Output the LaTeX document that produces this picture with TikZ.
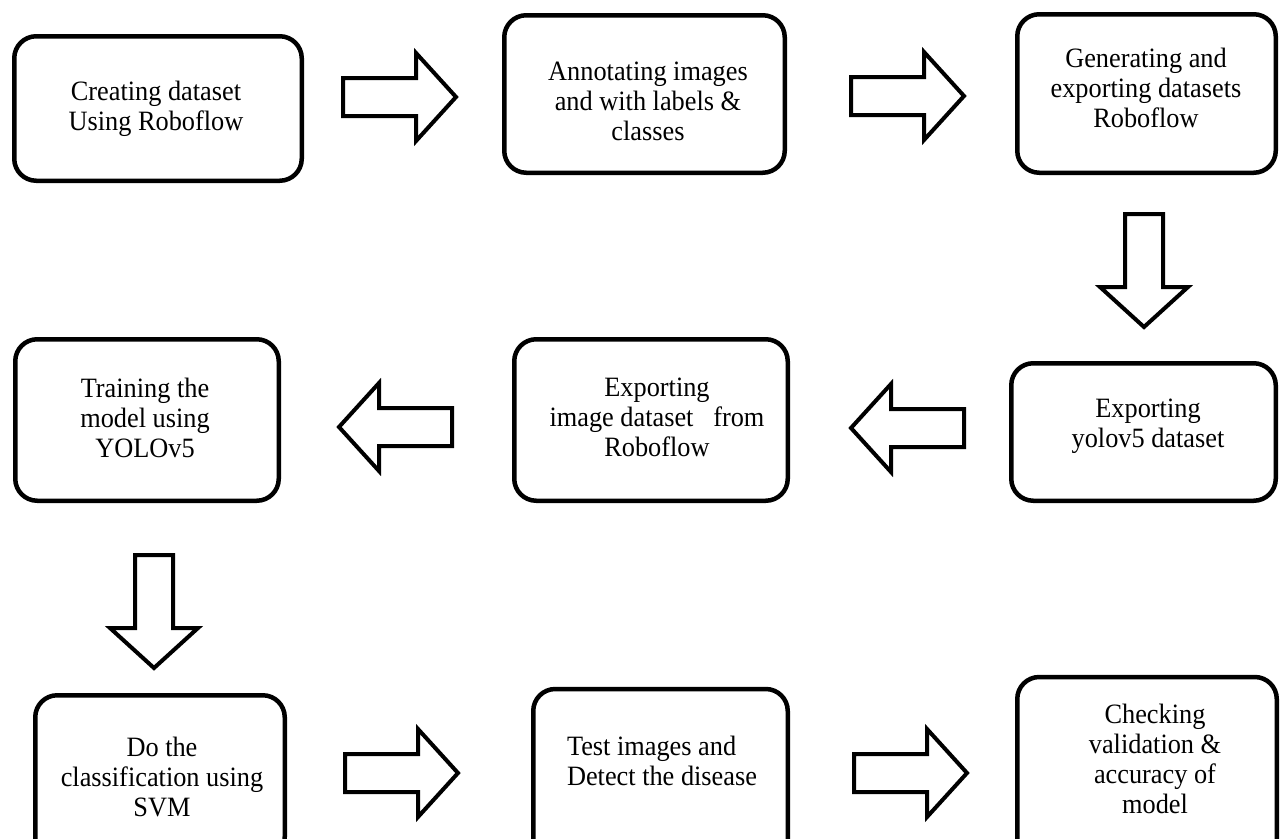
\documentclass[tikz,border=0pt]{standalone}
\usepackage{fontspec}
\setmainfont{Liberation Serif}[FakeStretch=0.94]
\tikzset{
  box/.style={draw=black, line width=4.5pt, rounded corners=22pt, inner sep=0pt, fill=white},
  txt/.style={align=center, inner sep=0pt, font=\fontsize{28}{30}\selectfont},
  arrowline/.style={draw=black, line width=4pt, line join=miter, fill=white},
  blockarrow/.pic={\path[arrowline] (2,-19) -- (75,-19) -- (75,-44) -- (115,0) -- (75,44) -- (75,19) -- (2,19) -- cycle;}
}
\begin{document}
\begin{tikzpicture}[x=1pt,y=-1pt]
\useasboundingbox[fill=white] (0,0) rectangle (1282,838);
% boxes
\node[box, minimum width=287.5pt, minimum height=144.5pt] (b1) at (158,108.5) {};
\node[box, minimum width=280.5pt, minimum height=157.5pt] (b2) at (644.5,94) {};
\node[box, minimum width=258.5pt, minimum height=158.5pt] (b3) at (1146.5,93.5) {};
\node[box, minimum width=264.5pt, minimum height=137.5pt] (b4) at (1143.5,432) {};
\node[box, minimum width=273.5pt, minimum height=161.5pt] (b5) at (651,420) {};
\node[box, minimum width=263.5pt, minimum height=161.5pt] (b6) at (147,420) {};
\node[box, minimum width=249.5pt, minimum height=163.5pt] (b7) at (160,777) {};
\node[box, minimum width=254.5pt, minimum height=173pt] (b8) at (660.5,775.5) {};
\node[box, minimum width=259.5pt, minimum height=185pt] (b9) at (1147,769.5) {};
% texts
\node[txt] (t1) at (156,109) {Creating dataset\\Using Roboflow};
\node[txt] (t2) at (648,101) {Annotating images\\and with labels \&\\classes};
\node[txt] (t3) at (1146,88) {Generating and\\exporting datasets\\Roboflow};
\node[txt] (t4) at (1148,426) {Exporting\\yolov5 dataset};
\node[txt] (t5) at (657,417) {Exporting\\image dataset\ \ \ from\\Roboflow};
\node[txt] (t6) at (145,418) {Training the\\model using\\YOLOv5};
\node[txt] (t7) at (162,777) {Do the\\classification using\\SVM};
\node[txt, align=left] (t8) at (662,761) {Test images and\\Detect the disease};
\node[txt] (t9) at (1155,759) {Checking\\validation \&\\accuracy of\\model};
% block arrows
\pic (a1) at (341,97) {blockarrow};
\pic (a2) at (849,96) {blockarrow};
\pic[rotate=-90] (a3) at (1144,212) {blockarrow};
\pic[rotate=180] (a4) at (966,428) {blockarrow};
\pic[rotate=180] (a5) at (454,427) {blockarrow};
\pic[rotate=-90] (a6) at (154,553) {blockarrow};
\pic (a7) at (343,773) {blockarrow};
\pic (a8) at (852,773) {blockarrow};
\end{tikzpicture}
\end{document}
